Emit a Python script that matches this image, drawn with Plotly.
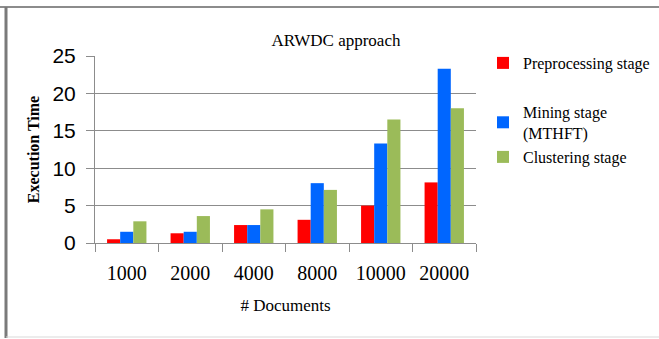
import plotly.graph_objects as go

documents = ["1000", "2000", "4000", "8000", "10000", "20000"]
preprocessing = [0.5, 1.3, 2.4, 3.1, 5.0, 8.1]
mining = [1.5, 1.5, 2.4, 8.0, 13.3, 23.3]
clustering = [2.9, 3.6, 4.5, 7.1, 16.5, 18.0]

series = [
    ("Preprocessing stage", preprocessing, "#ff0000", 46),
    ("Mining stage<br>(MTHFT)", mining, "#0066ff", 95),
    ("Clustering stage", clustering, "#9bbb59", 140),
]

serif = "Liberation Serif"
sans = "Liberation Sans"

W, H = 659, 339
L, R, T, B = 95, 183, 56, 96
pw = W - L - R
ph = H - T - B

def px(x):
    return (x - L) / pw

def py(y):
    return (H - B - y) / ph

fig = go.Figure()
legends = {}
for i, (name, vals, color, ytop) in enumerate(series):
    key = "legend" if i == 0 else f"legend{i + 1}"
    fig.add_trace(go.Bar(x=documents, y=vals, name=name, legend=key,
                         showlegend=True,
                         marker=dict(color=color, line=dict(width=0))))
    legends[key] = dict(xref="container", yref="container",
                        x=483 / W, y=1 - ytop / H,
                        xanchor="left", yanchor="top", visible=True,
                        font=dict(family=serif, size=16, color="black"),
                        itemwidth=30, bgcolor="rgba(0,0,0,0)")

fig.update_layout(
    width=W, height=H, showlegend=True,
    margin=dict(l=L, r=R, t=T, b=B, autoexpand=False),
    paper_bgcolor="white", plot_bgcolor="white",
    barmode="group", bargap=0.38, bargroupgap=0,
    title=dict(text="ARWDC approach", x=336 / W, xanchor="center",
               y=1 - 40 / H, yanchor="middle",
               font=dict(family=serif, size=17, color="black")),
    xaxis=dict(showline=True, linecolor="#8c8c8c", linewidth=1,
               ticks="outside", tickson="boundaries", ticklen=8,
               tickcolor="#8c8c8c", tickangle=0, ticklabelstandoff=12,
               tickfont=dict(family=serif, size=20, color="black"),
               title=dict(text="# Documents", standoff=16,
                          font=dict(family=serif, size=17, color="black"))),
    yaxis=dict(range=[0, 25], dtick=5, showgrid=True, gridcolor="#8c8c8c",
               gridwidth=1, showline=True, linecolor="#8c8c8c",
               ticks="outside", ticklen=8, tickcolor="#8c8c8c",
               zeroline=False, ticklabelstandoff=6,
               tickfont=dict(family=sans, size=21, color="black"),
               title=dict(text="<b>Execution Time</b>", standoff=8,
                          font=dict(family=serif, size=16, color="black"))),
    shapes=[
        dict(type="line", xref="paper", yref="paper",
             x0=px(0), x1=px(W), y0=py(7), y1=py(7),
             line=dict(color="#8c8c8c", width=2)),
        dict(type="line", xref="paper", yref="paper",
             x0=px(6), x1=px(6), y0=py(7), y1=py(338),
             line=dict(color="#7a7a7a", width=3)),
        dict(type="line", xref="paper", yref="paper",
             x0=px(6), x1=px(W), y0=py(337), y1=py(337),
             line=dict(color="#d9d9d9", width=1)),
    ],
    **legends,
)

fig.write_html("out.html")
